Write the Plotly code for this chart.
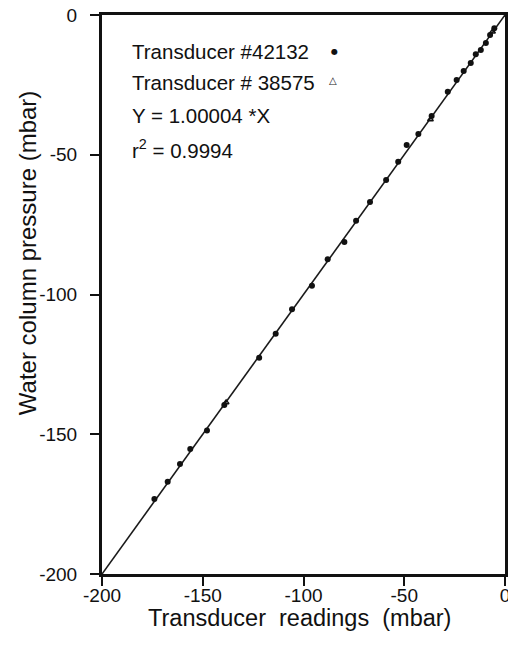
import plotly.graph_objects as go

# --- data ---
t42132_x = [-174.0, -167.4, -161.3, -156.2, -147.9, -139.3, -122.0, -113.8, -105.7, -95.8,
            -88.0, -79.7, -73.9, -67.0, -59.0, -53.0, -48.8, -43.0, -36.4, -28.4,
            -24.0, -20.5, -17.0, -14.5, -12.0, -9.5, -7.4, -5.3]
t42132_y = [-173.2, -167.0, -160.6, -155.3, -148.7, -139.5, -122.6, -114.0, -105.3, -96.9,
            -87.4, -81.2, -73.6, -66.9, -59.0, -52.5, -46.5, -42.6, -36.1, -27.5,
            -23.3, -20.0, -17.2, -14.0, -12.5, -10.0, -7.2, -4.7]
t38575_x = [-138.4, -37.0, -6.2]
t38575_y = [-138.6, -37.4, -6.0]
fit_slope = 1.00004
fit_x = [-200, 0]
fit_y = [fit_slope * v for v in fit_x]
tick_vals = [-200, -150, -100, -50, 0]
tick_text = ["-200", "-150", "-100", "-50", "0"]
legend_lines = ["Transducer #42132", "Transducer # 38575", "Y = 1.00004 *X", "r<sup>2</sup> = 0.9994"]

FONT = "Liberation Sans, Arial, Helvetica, sans-serif"

fig = go.Figure()
fig.add_trace(go.Scatter(x=fit_x, y=fit_y, mode="lines",
                         line=dict(color="#1a1a1a", width=1.6), showlegend=False, hoverinfo="skip"))
fig.add_trace(go.Scatter(x=t42132_x, y=t42132_y, mode="markers",
                         marker=dict(symbol="circle", size=6, color="#111111"), showlegend=False))
fig.add_trace(go.Scatter(x=t38575_x, y=t38575_y, mode="markers",
                         marker=dict(symbol="triangle-up-open", size=5, color="#111111",
                                     line=dict(width=1.5)), showlegend=False))

axis_common = dict(showgrid=False, zeroline=False, showline=True, linewidth=3, linecolor="#111111",
                   mirror=True, ticks="outside", ticklen=9, tickwidth=2, tickcolor="#111111",
                   tickvals=tick_vals, ticktext=tick_text, automargin=False,
                   ticklabeloverflow="allow",
                   tickfont=dict(family=FONT, size=19, color="#111111"))

fig.update_layout(
    width=508, height=651,
    margin=dict(l=102, r=3, t=15, b=77),
    paper_bgcolor="white", plot_bgcolor="white",
    xaxis=dict(range=[-200, 0], ticklabelstandoff=-7, **axis_common),
    yaxis=dict(range=[-200, 0], ticklabelstandoff=9, **axis_common),
    showlegend=False,
)

ys = [0.934, 0.880, 0.821, 0.760]
for txt, yy in zip(legend_lines, ys):
    fig.add_annotation(text=txt, xref="paper", yref="paper", x=0.069, y=yy,
                       xanchor="left", yanchor="middle", showarrow=False,
                       font=dict(family=FONT, size=20.5, color="#111111"))
fig.add_annotation(text="●", xref="paper", yref="paper", x=0.578, y=0.935,
                   xanchor="center", yanchor="middle", showarrow=False,
                   font=dict(family="DejaVu Sans", size=8, color="#111111"))
fig.add_annotation(text="△", xref="paper", yref="paper", x=0.574, y=0.883,
                   xanchor="center", yanchor="middle", showarrow=False,
                   font=dict(family="DejaVu Sans", size=10, color="#222222"))

fig.add_annotation(text="Water column pressure (mbar)", xref="paper", yref="paper",
                   x=-0.186, y=0.574, xanchor="center", yanchor="middle", textangle=-90,
                   showarrow=False, font=dict(family=FONT, size=24, color="#111111"))
fig.add_annotation(text="Transducer\u00a0 readings\u00a0 (mbar)", xref="paper", yref="paper",
                   x=0.491, y=-0.078, xanchor="center", yanchor="middle",
                   showarrow=False, font=dict(family=FONT, size=23.5, color="#111111"))

fig.write_html("out.html", config={"displayModeBar": False},
               post_script="document.body.style.margin='0';")
